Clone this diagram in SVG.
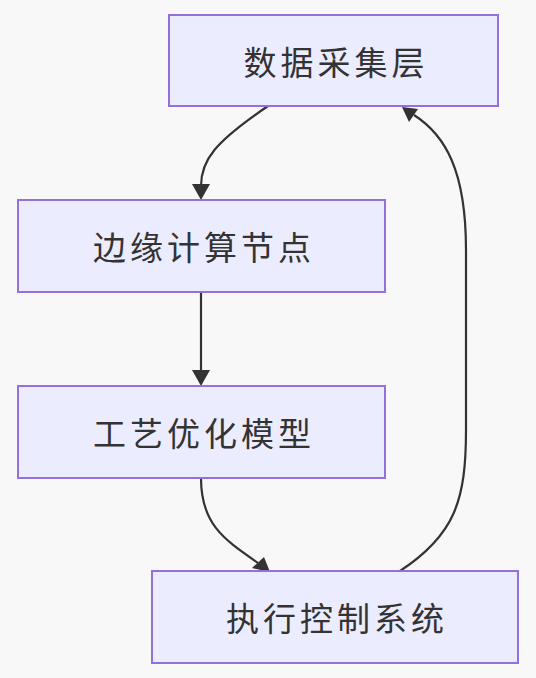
<svg xmlns="http://www.w3.org/2000/svg" width="536" height="678" viewBox="0 0 536 678">
<defs>
<style>
.node rect{fill:#ECECFF;stroke:#9370DB;stroke-width:2}
.node text{font-family:"Noto Sans CJK SC","Noto Sans",sans-serif;font-size:33px;fill:#333;text-anchor:middle;dominant-baseline:central;letter-spacing:4px}
.edge{fill:none;stroke:#333;stroke-width:2.2}
.head{fill:#333}
</style>
</defs>
<rect width="536" height="678" fill="#f8f8f8"/>
<g id="connectors">
<path class="edge" d="M268,106 C215,142 201,160 201,186"/>
<path class="edge" d="M201,292 L201,372"/>
<path class="edge" d="M201,478 C201,525 225,540 258,563"/>
<path class="edge" d="M400,571 C455,535 466,500 466,430 L466,250 C466,170 445,135 414,115"/>
<path class="head" d="M192,184 L210,184 L201,200 z"/>
<path class="head" d="M192,370 L210,370 L201,386 z"/>
<path class="head" d="M252,568 L264,557 L270,572 z"/>
<path class="head" d="M402,107 L418,109 L409,122 z"/>
</g>
<g id="n1" class="node"><rect x="169" y="15" width="329" height="91"/><text x="336" y="61">数据采集层</text></g>
<g id="n2" class="node"><rect x="18" y="200" width="367" height="92"/><text x="204" y="246">边缘计算节点</text></g>
<g id="n3" class="node"><rect x="18" y="386" width="367" height="92"/><text x="204" y="432">工艺优化模型</text></g>
<g id="n4" class="node"><rect x="152" y="571" width="366" height="92"/><text x="337" y="617">执行控制系统</text></g>
</svg>
